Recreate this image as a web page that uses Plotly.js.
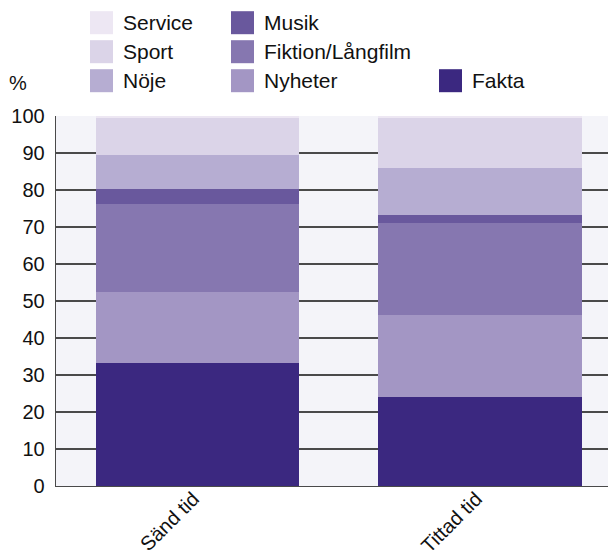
<!DOCTYPE html>
<html>
<head>
<meta charset="utf-8">
<script src="https://cdn.plot.ly/plotly-3.0.1.min.js"></script>
<style>html,body{margin:0;padding:0;background:#fff;}#chart{width:608px;height:550px;}</style>
</head>
<body>
<div id="chart"></div>
<script>
// ---- data ----
const categories = ['Sänd tid', 'Tittad tid'];
const seriesNames = ['Fakta', 'Nyheter', 'Fiktion/Långfilm', 'Musik', 'Nöje', 'Sport', 'Service'];
const fakta   = [33.2, 24.0];
const nyheter = [19.2, 22.2];
const fiktion = [23.8, 24.9];
const musik   = [4.1, 2.1];
const noje    = [9.2, 12.7];
const sport   = [10.0, 13.6];
const service = [0.5, 0.5];
const yTickVals = [0, 10, 20, 30, 40, 50, 60, 70, 80, 90, 100];
const yTickText = ['0', '10', '20', '30', '40', '50', '60', '70', '80', '90', '100'];
const unitLabel = '%';

// ---- styles ----
const seriesValues = [fakta, nyheter, fiktion, musik, noje, sport, service];
const seriesColors = ['#3b2880', '#a396c4', '#8677b0', '#69589d', '#b6add2', '#dbd4e8', '#ede7f3'];
// legend slot (column, row) per series, Excel-style column-major legend
const legendSlots = [[2, 2], [1, 2], [1, 1], [1, 0], [0, 2], [0, 1], [0, 0]];
const legendColX = [90, 231, 439];
const legendRowY = [22.7, 51.7, 80.7];

const W = 608, H = 550;
const M = {l: 56, r: 0, t: 116, b: 64};
const pw = W - M.l - M.r, ph = H - M.t - M.b;
const px = x => (x - M.l) / pw;
const py = y => (H - M.b - y) / ph;

const traces = seriesNames.map((name, i) => ({
  type: 'bar',
  name: name,
  x: categories,
  y: seriesValues[i],
  marker: {color: seriesColors[i], line: {width: 0}},
  showlegend: false,
  hoverinfo: 'name+y'
}));

const shapes = [];
const annotations = [];
seriesNames.forEach((name, i) => {
  const [c, r] = legendSlots[i];
  const x0 = legendColX[c], yc = legendRowY[r];
  shapes.push({
    type: 'rect', xref: 'paper', yref: 'paper',
    x0: px(x0), x1: px(x0 + 23), y0: py(yc + 11.5), y1: py(yc - 11.5),
    fillcolor: seriesColors[i], line: {width: 0}
  });
  annotations.push({
    xref: 'paper', yref: 'paper', x: px(x0 + 31), y: py(yc),
    xanchor: 'left', yanchor: 'middle', showarrow: false,
    text: name, font: {family: 'Liberation Sans, Arial, sans-serif', size: 21, color: '#111'}
  });
});
annotations.push({
  xref: 'paper', yref: 'paper', x: px(17.5), y: py(83),
  xanchor: 'center', yanchor: 'middle', showarrow: false,
  text: unitLabel, font: {family: 'Liberation Sans, Arial, sans-serif', size: 20, color: '#111'}
});

const layout = {
  width: W, height: H,
  margin: M,
  barmode: 'stack',
  bargap: 0.28,
  paper_bgcolor: '#ffffff',
  plot_bgcolor: '#f4f4f9',
  font: {family: 'Liberation Sans, Arial, sans-serif', size: 20, color: '#111'},
  showlegend: false,
  xaxis: {
    type: 'category',
    range: [-0.5, 1.452],
    tickangle: -45,
    ticks: '',
    ticklabelstandoff: -8,
    ticklabelshift: -4,
    showgrid: false,
    showline: true, linecolor: '#4a4a4a', linewidth: 1.3,
    tickfont: {size: 20, color: '#111'},
    fixedrange: true
  },
  yaxis: {
    range: [0, 100],
    tickvals: yTickVals,
    ticktext: yTickText,
    ticks: '',
    ticklabelstandoff: 6,
    showgrid: true, gridcolor: '#4a4a4a', gridwidth: 1.3,
    zeroline: false,
    showline: true, linecolor: '#4a4a4a', linewidth: 1.3,
    tickfont: {size: 20, color: '#111'},
    fixedrange: true
  },
  shapes: shapes,
  annotations: annotations
};

Plotly.newPlot('chart', traces, layout, {displayModeBar: false, staticPlot: true});
</script>
</body>
</html>
